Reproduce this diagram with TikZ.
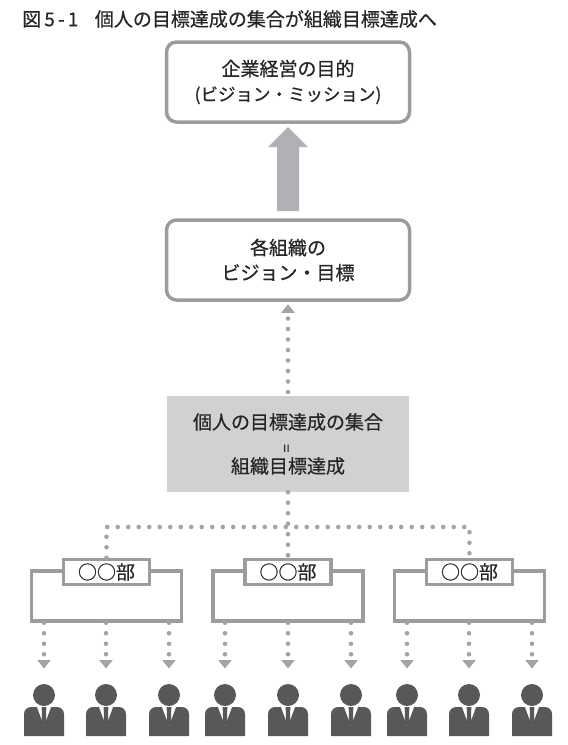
\documentclass[tikz,border=0pt]{standalone}
\usepackage{fontspec}
\setmainfont[FakeBold=0.6]{Noto Sans CJK JP}
\usetikzlibrary{positioning,arrows.meta}
\definecolor{boxgray}{HTML}{9C9C9E}
\definecolor{sumgray}{HTML}{D0D1D3}
\definecolor{arrowgray}{HTML}{B0B1B4}
\definecolor{dotgray}{HTML}{A4A4A6}
\definecolor{figgray}{HTML}{58585A}
\tikzset{
    goalbox/.style={draw=boxgray, line width=3.5pt, rounded corners=10pt, fill=white, minimum width=243pt, minimum height=80pt, align=center, font=\fontsize{19}{25}\selectfont, text=black!85},
    sumbox/.style={fill=sumgray, minimum width=242pt, minimum height=96pt, align=center, font=\fontsize{19}{22}\selectfont, text=black!85},
    deptbox/.style={draw=boxgray, line width=3.5pt, fill=white, minimum width=150pt, minimum height=50pt},
    deptlabel/.style={draw=boxgray, line width=3.5pt, fill=white, minimum width=86pt, minimum height=25pt, inner sep=0pt, font=\fontsize{19}{22}\selectfont, text=black!85},
    dotline/.style={draw=dotgray, line width=4.6pt, line cap=round, dash pattern=on 0pt off 10.5pt},
    dotlink/.style={dotline, -{Triangle[length=8.5pt,width=13pt,sep=2.5pt]}},
    person/.pic={
        \node (-head) [circle, fill=figgray, minimum size=22pt, inner sep=0pt] at (0,0) {};
        \fill[figgray] (-20,41) -- (-20,18) [rounded corners=7pt] -- (-20,12) -- (20,12) [sharp corners] -- (20,41) -- cycle;
        \fill[white] (-7,12) -- (7,12) -- (0,31) -- cycle;
        \fill[figgray] (-2.5,12) -- (2.5,12) -- (2,18) -- (2.5,28) -- (0,31) -- (-2.5,28) -- (-2,18) -- cycle;
    }
}
\begin{document}
\begin{tikzpicture}[x=1pt,y=-1pt]
	\useasboundingbox (0,0) rectangle (568,745);
	\node (title) [anchor=west, inner sep=0pt, font=\fontsize{19}{22}\selectfont, text=black!85] at (22,19) {図\,5\,-\,1\hspace{16.5pt}個人の目標達成の集合が組織目標達成へ};

	\node (goal) [goalbox] at (288,82) {企業経営の目的\\{\fontsize{17.5}{20}\selectfont (ビジョン・ミッション)}};
	\node (vision) [goalbox] at (288,260) {各組織の\\ビジョン・目標};
	\node (sum) [sumbox] at (288,444) {個人の目標達成の集合\\{\fontsize{15}{10}\selectfont\raisebox{-1pt}[0pt][0pt]{\rotatebox[origin=c]{90}{=}}}\\組織目標達成};
	\coordinate (hub) at (288,527);

	% block arrow
	\fill[arrowgray] (277,211) -- (277,147) -- (268,147) -- (288,127) -- (308,147) -- (299,147) -- (299,211) -- cycle;

	\node (dept1) [deptbox] at (106.5,596) {};
	\node (dept2) [deptbox] at (288,596) {};
	\node (dept3) [deptbox] at (469.5,596) {};
	\node (label1) [deptlabel] at (106.5,572) {○○部};
	\node (label2) [deptlabel] at (288,572) {○○部};
	\node (label3) [deptlabel] at (469.5,572) {○○部};

	\draw[dotlink] (288,392) -- (vision.south);
	\draw[dotline] (sum.south) -- (label2.north);
	\draw[dotline] (label1.north) -- (label1.north |- hub) -- (label3.north |- hub) -- (label3.north);

	\foreach \i/\x/\d in {1/44/1,2/106/1,3/169/1,4/225/2,5/288/2,6/351/2,7/407/3,8/469/3,9/532/3} {
		\pic (p\i) at (\x,695) {person};
		\coordinate (t\i) at (\x,671);
		\draw[dotlink] (dept\d.south -| t\i) -- (t\i);
	}
\end{tikzpicture}
\end{document}
